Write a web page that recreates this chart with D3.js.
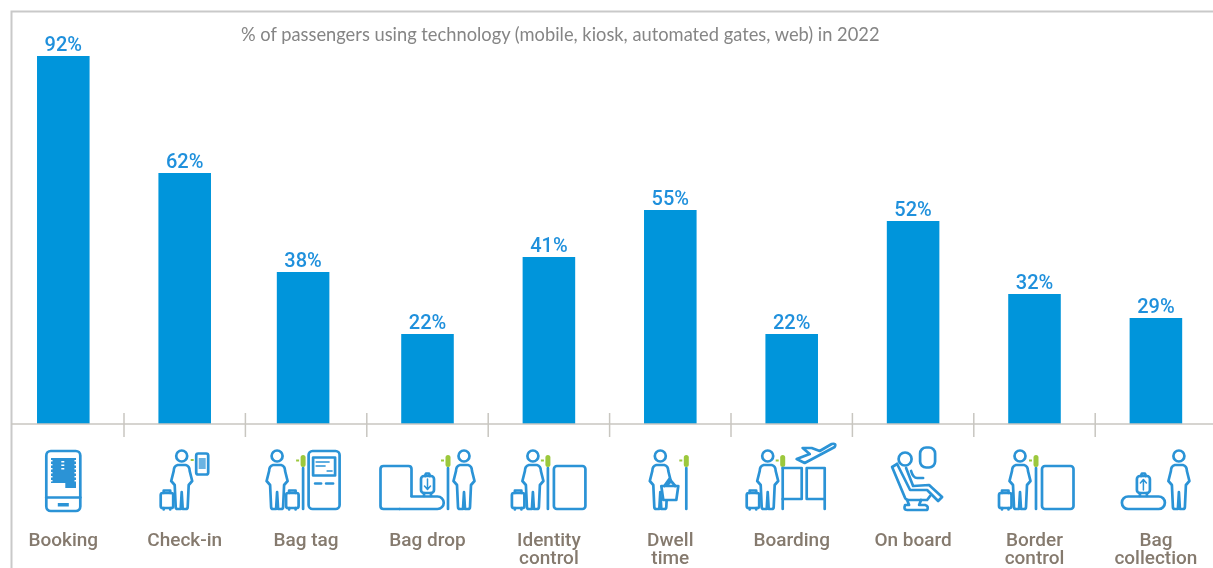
<!DOCTYPE html>
<html>
<head>
<meta charset="utf-8">
<script src="https://cdn.jsdelivr.net/npm/d3@7"></script>
<style>
  html, body { margin: 0; padding: 0; background: #fff; overflow: hidden; }
  svg { display: block; }
  .cat-label { font-family: Roboto, sans-serif; font-size: 19px; font-weight: 500; fill: #857a6e; text-anchor: middle; filter: blur(0.4px); }
  .val-label { font-family: Roboto, sans-serif; font-size: 20px; font-weight: 500; fill: #1f90dc; text-anchor: middle; filter: blur(0.3px); }
  .plot-title { font-family: Lato, sans-serif; font-size: 18.3px; fill: #858585; filter: blur(0.4px); }
  .icon { filter: blur(0.4px); }
  .icon * { fill: none; stroke: #2b93d6; stroke-width: 2.7; stroke-linejoin: round; stroke-linecap: round; }
  .icon .solid { fill: #2b93d6; stroke: none; }
  .icon .hole { fill: #fff; stroke: none; }
  .icon .tag { fill: #9cc83c; stroke: none; }
  .icon .thin { stroke-width: 1.5; }
</style>
</head>
<body>
<div id="chart"></div>
<script>
const categories = ["Booking", "Check-in", "Bag tag", "Bag drop", "Identity control",
  "Dwell time", "Boarding", "On board", "Border control", "Bag collection"];
const valueLabels = ["92%", "62%", "38%", "22%", "41%", "55%", "22%", "52%", "32%", "29%"];
// bar heights as drawn in the picture, they don't follow the printed labels exactly
const barValues = [92, 62.75, 38, 22.5, 41.75, 53.5, 22.5, 50.75, 32.5, 26.5];
const titleText = "% of passengers using technology (mobile, kiosk, automated gates, web) in 2022";

const width = 1213, height = 568;
const axisY = 424;

const svg = d3.select("#chart").append("svg")
  .attr("width", width)
  .attr("height", height);

const x = d3.scaleBand()
  .domain(categories)
  .range([2.6, 1216.6])
  .paddingInner(0.567)
  .paddingOuter(0.2835);

const y = d3.scaleLinear()
  .domain([0, 92])
  .range([axisY, 56]);

// the Bag tag bar sits a little left of its band in the original
const barX = d => x(d) - (d === "Bag tag" ? 3 : 0);

// frame, only top and left are visible
svg.append("path")
  .attr("d", `M11.5,${height} V11.5 H${width}`)
  .attr("fill", "none")
  .attr("stroke", "#c9c9c9")
  .attr("stroke-width", 2);

svg.append("text")
  .attr("class", "plot-title")
  .attr("x", 241)
  .attr("y", 41)
  .text(titleText);

// bars
svg.append("g")
  .selectAll("rect")
  .data(categories)
  .join("rect")
    .attr("x", d => barX(d))
    .attr("y", (d, i) => y(barValues[i]))
    .attr("width", x.bandwidth())
    .attr("height", (d, i) => y(0) - y(barValues[i]))
    .attr("fill", "#0095db");

svg.append("g")
  .selectAll("text")
  .data(categories)
  .join("text")
    .attr("class", "val-label")
    .attr("x", d => barX(d) + x.bandwidth() / 2)
    .attr("y", (d, i) => y(barValues[i]) - 5)
    .text((d, i) => valueLabels[i]);

// axis line and the separators between categories
svg.append("line")
  .attr("x1", 11).attr("x2", width)
  .attr("y1", axisY).attr("y2", axisY)
  .attr("stroke", "#c8c6c0")
  .attr("stroke-width", 1.5);

svg.append("g")
  .selectAll("line")
  .data(categories.slice(1))
  .join("line")
    .attr("x1", d => x(d) - (x.step() - x.bandwidth()) / 2)
    .attr("x2", d => x(d) - (x.step() - x.bandwidth()) / 2)
    .attr("y1", 413)
    .attr("y2", 437)
    .attr("stroke", "#c8c6c0")
    .attr("stroke-width", 1.5);

// category labels, split on the space for the two line ones
const twoLine = ["Identity control", "Dwell time", "Border control", "Bag collection"];
svg.append("g")
  .selectAll("text")
  .data(categories)
  .join("text")
    .attr("class", "cat-label")
    .attr("y", 546)
    .each(function(d) {
      const cx = x(d) + x.bandwidth() / 2;
      const lines = twoLine.includes(d) ? d.split(" ") : [d];
      d3.select(this).selectAll("tspan")
        .data(lines)
        .join("tspan")
          .attr("x", cx)
          .attr("dy", (l, i) => i ? 18 : 0)
          .text(l => l);
    });

// icon pieces, local origin is the band centre at the top of the icon row (y = 440)
function person(g, dx) {
  g.append("circle").attr("cx", dx).attr("cy", 16).attr("r", 5.5);
  g.append("path").attr("d",
    `M${dx-4},25 Q${dx-8},26 ${dx-8},31 L${dx-10.5},41 L${dx-7},45 L${dx-6},67 Q${dx-6},69 ${dx-4},69 ` +
    `L${dx-1},69 L${dx},52 L${dx+1},69 L${dx+4},69 Q${dx+6},69 ${dx+6},67 L${dx+7},45 L${dx+10.5},41 ` +
    `L${dx+8},31 Q${dx+8},26 ${dx+4},25 Z`);
}
function suitcase(g, dx) {
  g.append("rect").attr("x", dx).attr("y", 53).attr("width", 12.5).attr("height", 15).attr("rx", 2);
  g.append("path").attr("d", `M${dx+3},53 V50.5 H${dx+9.5} V53 M${dx+3},68 V69.5 M${dx+9.5},68 V69.5`);
}
function post(g, dx) {
  g.append("path").attr("d", `M${dx},28 V69`);
  g.append("rect").attr("class", "tag").attr("x", dx - 2.5).attr("y", 15).attr("width", 5).attr("height", 12).attr("rx", 2.5);
  g.append("rect").attr("class", "tag").attr("x", dx - 7).attr("y", 19.5).attr("width", 3).attr("height", 2);
}
function panel(g, dx) {
  g.append("rect").attr("x", dx).attr("y", 26).attr("width", 31.5).attr("height", 43).attr("rx", 3);
}
function belt(g, dx, w) {
  g.append("rect").attr("x", dx).attr("y", 56.5).attr("width", w).attr("height", 12.5).attr("rx", 6.2);
}
function bag(g, dx, arrow) {
  g.append("rect").attr("x", dx).attr("y", 36).attr("width", 13).attr("height", 17).attr("rx", 3);
  g.append("path").attr("d", `M${dx+4},36 L${dx+5},33.5 H${dx+8} L${dx+9},36 M${dx+3},53 V56 M${dx+10},53 V56`);
  g.append("path").attr("class", "thin").attr("d", arrow === "down"
    ? `M${dx+6.5},39 V49 M${dx+3.5},46 L${dx+6.5},49.5 L${dx+9.5},46`
    : `M${dx+6.5},50 V40 M${dx+3.5},43 L${dx+6.5},39.5 L${dx+9.5},43`);
}

const iconDraw = {
  "Booking": g => {
    g.append("rect").attr("x", -17).attr("y", 11).attr("width", 34).attr("height", 60).attr("rx", 4.5);
    g.append("path").attr("d", "M-17,57.5 H17");
    g.append("path").attr("class", "solid").attr("d", "M-12.3,18 H12.7 V48 H2 V43 H-12.3 Z");
    g.append("rect").attr("class", "solid").attr("x", -5.5).attr("y", 63).attr("width", 11).attr("height", 3.5);
    // dots in the phone screen
    [21, 24.5, 28].forEach(t => {
      g.append("rect").attr("class", "hole").attr("x", -2).attr("y", t).attr("width", 3).attr("height", 1.5);
    });
    d3.range(20, 44, 4).forEach(t => {
      g.append("rect").attr("class", "hole").attr("x", -12.3).attr("y", t).attr("width", 1.5).attr("height", 1.5);
      g.append("rect").attr("class", "hole").attr("x", 11.2).attr("y", t).attr("width", 1.5).attr("height", 1.5);
    });
  },
  "Check-in": g => {
    person(g, -3);
    suitcase(g, -24);
    g.append("rect").attr("x", 11.5).attr("y", 13.5).attr("width", 12).attr("height", 21).attr("rx", 2);
    g.append("rect").attr("class", "solid").attr("x", 14).attr("y", 18).attr("width", 7).attr("height", 11).attr("opacity", 0.7);
    g.append("rect").attr("class", "tag").attr("x", 6).attr("y", 19).attr("width", 3).attr("height", 2);
  },
  "Bag tag": g => {
    person(g, -29);
    suitcase(g, -20);
    post(g, -3);
    g.append("rect").attr("x", 2.5).attr("y", 11).attr("width", 31).attr("height", 58).attr("rx", 4);
    g.append("rect").attr("x", 7).attr("y", 17.5).attr("width", 22).attr("height", 18);
    g.append("path").attr("class", "thin").attr("d", "M10,22 H23 M10,26 H19 M21,31 H26");
    g.append("path").attr("d", "M9,43.5 H15 M20,43.5 H27");
  },
  "Bag drop": g => {
    g.append("path").attr("d", "M-28,69 H-44 Q-47,69 -47,66 V29 Q-47,26 -44,26 H-19 Q-16,26 -16,29 V56");
    g.append("path").attr("d", "M-28,69 H10 A6.2,6.2 0 0 0 10,56.5 H-16");
    bag(g, -6.5, "down");
    post(g, 20.5);
    person(g, 36.5);
  },
  "Identity control": g => {
    suitcase(g, -37);
    person(g, -16);
    post(g, -1);
    panel(g, 5);
  },
  "Dwell time": g => {
    person(g, -10);
    post(g, 16);
    g.append("path").attr("class", "hole").attr("d", "M-9,46 H8 L6,60 H-7 Z");
    g.append("path").attr("d", "M-9,46 H8 L6,60 H-7 Z");
    g.append("path").attr("d", "M-6,46 L-1,39 L5,46");
  },
  "Boarding": g => {
    suitcase(g, -45);
    person(g, -24);
    post(g, -9);
    g.append("path").attr("d", "M-9,28 H10 V59 H-9");
    g.append("path").attr("d", "M33,69 V28 H15 V59 H33");
    g.append("path").attr("d", "M5,19 L18,14 L11,8 L20,8 L28,11 L40,4 Q45,3 43,7 L13,23 Z");
  },
  "On board": g => {
    g.append("rect").attr("x", 7).attr("y", 7.5).attr("width", 15).attr("height", 20).attr("rx", 6);
    g.append("circle").attr("cx", -8).attr("cy", 19).attr("r", 6.5);
    g.append("path").attr("d", "M-16,24 L-21,27 L-8,58 Q-7,60 -4,60 H14 L17,56");
    g.append("path").attr("d", "M-16,24 L-3,50 H14 L25,61 L29,57 L16,45 L0,46 L-7,28");
    g.append("path").attr("d", "M-2,31 Q0,38 4,38 H10");
    g.append("path").attr("d", "M-6,60 L-4,65 H-8 Q-10,70 -6,70 H14 Q16,66 12,65 H6 L8,60");
  },
  "Border control": g => {
    suitcase(g, -35.5);
    person(g, -14.5);
    post(g, 1.5);
    panel(g, 7.5);
  },
  "Bag collection": g => {
    belt(g, -34, 43);
    bag(g, -19, "up");
    person(g, 23);
  }
};

svg.append("g")
  .selectAll("g")
  .data(categories)
  .join("g")
    .attr("class", "icon")
    .attr("transform", d => `translate(${x(d) + x.bandwidth() / 2},440)`)
    .each(function(d) { iconDraw[d](d3.select(this)); });
</script>
</body>
</html>
